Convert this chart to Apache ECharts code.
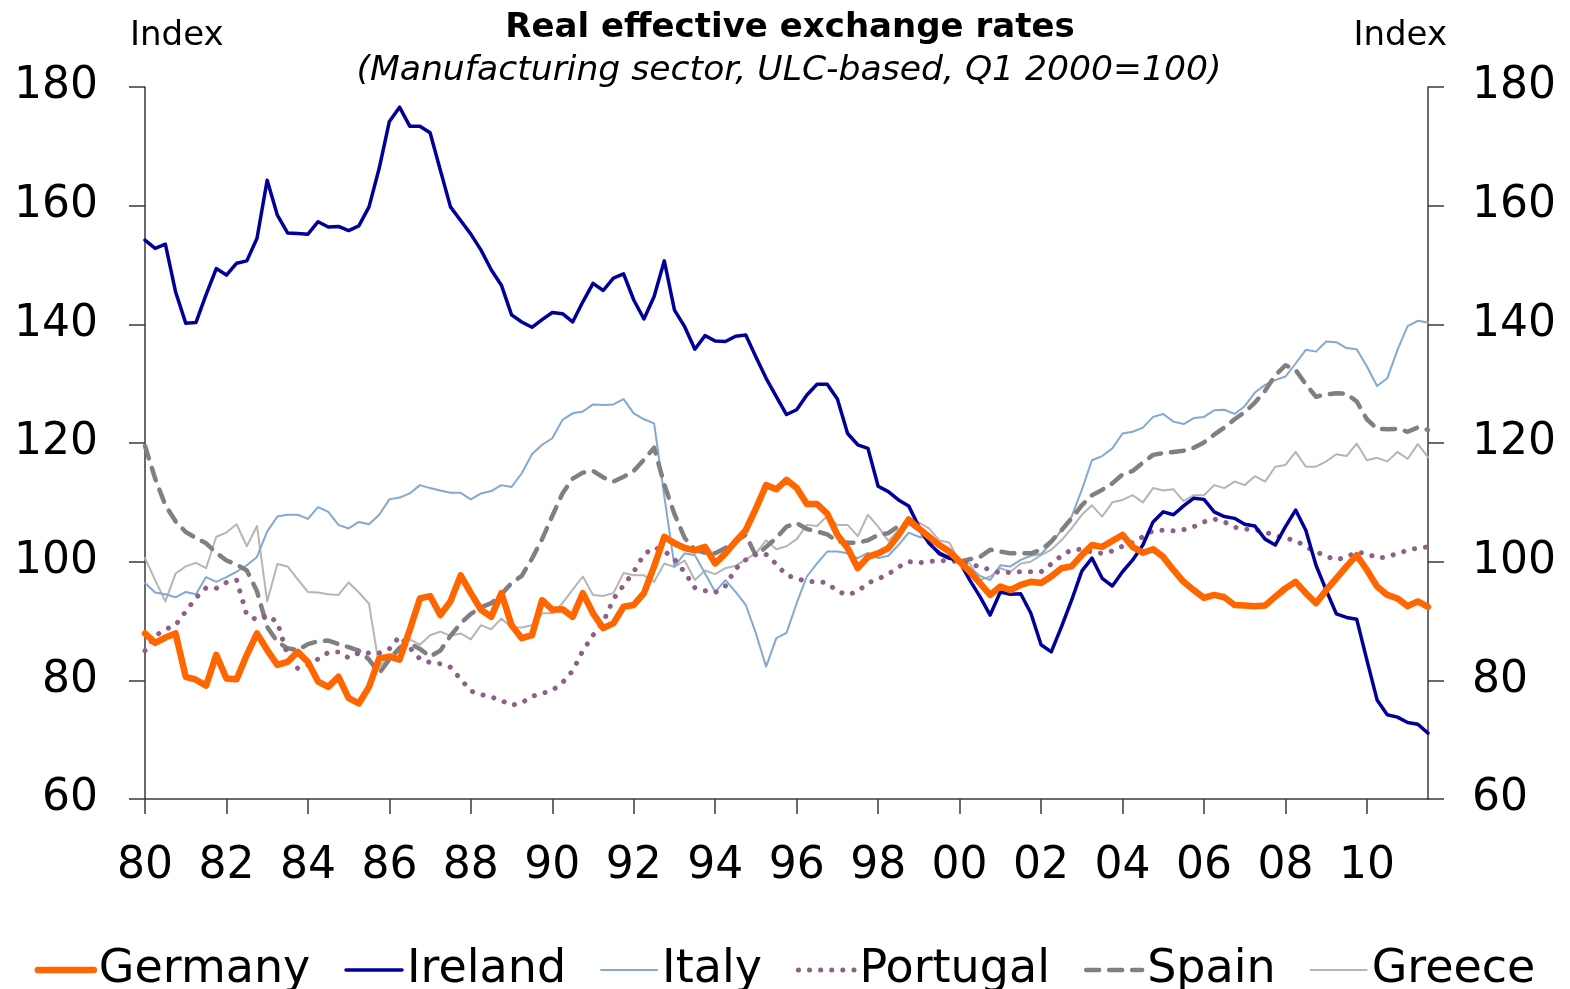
<!DOCTYPE html>
<html>
<head>
<meta charset="utf-8">
<title>Real effective exchange rates</title>
<script src="https://cdn.jsdelivr.net/npm/echarts@6/dist/echarts.min.js"></script>
<style>
  html, body { margin: 0; padding: 0; background: #fff; }
  #chart { width: 1570px; height: 989px; }
</style>
</head>
<body>
<div id="chart"></div>
<script>
// Quarterly categories, 1980Q1 .. 2011Q3
const quarters = [];
for (let y = 1980; y <= 2011; y++) {
  for (let q = 1; q <= 4; q++) {
    if (y === 2011 && q > 3) break;
    quarters.push(y + 'Q' + q);
  }
}

// Index, Q1 2000 = 100
const germany = [
  87.9, 86.3, 87.2, 87.9, 80.6, 80.1, 79.1, 84.3, 80.3, 80.2,
  84.3, 87.9, 85.1, 82.6, 83.1, 84.8, 83.1, 79.8, 78.9, 80.6,
  77.0, 76.1, 78.9, 83.7, 84.0, 83.5, 88.5, 93.8, 94.2, 91.0,
  93.3, 97.7, 94.7, 91.9, 90.7, 94.7, 89.3, 87.1, 87.6, 93.5,
  91.9, 92.0, 90.7, 94.7, 91.3, 88.8, 89.6, 92.4, 92.7, 94.7,
  99.2, 104.2, 103.1, 102.3, 101.9, 102.5, 99.7, 101.4, 103.4, 105.3,
  109.0, 112.9, 112.2, 113.8, 112.4, 109.7, 109.7, 108.1, 104.5, 102.3,
  98.9, 100.8, 101.4, 102.3, 104.5, 107.1, 105.6, 104.2, 102.8, 101.7,
  100.0, 98.3, 96.4, 94.4, 95.8, 95.2, 96.1, 96.6, 96.4, 97.5,
  98.9, 99.2, 101.1, 102.8, 102.5, 103.5, 104.5, 102.5, 101.5, 102.1,
  100.8, 98.6, 96.6, 95.2, 93.9, 94.4, 94.0, 92.7, 92.6, 92.5,
  92.6, 94.1, 95.5, 96.6, 94.7, 93.0, 95.2, 97.2, 99.2, 101.1,
  98.6, 95.8, 94.4, 93.8, 92.5, 93.3, 92.4
];

const ireland = [
  154.2, 152.8, 153.5, 145.5, 140.2, 140.3, 145.0, 149.4, 148.3, 150.3,
  150.7, 154.5, 164.3, 158.4, 155.4, 155.3, 155.2, 157.3, 156.4, 156.5,
  155.8, 156.6, 159.8, 166.3, 174.2, 176.6, 173.4, 173.4, 172.3, 166.0,
  159.8, 157.5, 155.2, 152.5, 149.2, 146.6, 141.6, 140.4, 139.5, 140.8,
  142.0, 141.8, 140.4, 143.8, 146.9, 145.7, 147.8, 148.5, 144.1, 140.9,
  144.7, 150.7, 142.4, 139.6, 135.8, 138.1, 137.2, 137.1, 138.0, 138.2,
  134.5, 130.9, 127.8, 124.8, 125.6, 128.1, 129.9, 129.9, 127.4, 121.6,
  119.7, 119.1, 112.7, 111.8, 110.4, 109.4, 105.9, 103.1, 101.4, 100.6,
  100.0, 96.9, 94.1, 91.0, 94.9, 94.5, 94.6, 91.3, 86.0, 84.8,
  89.0, 93.5, 98.4, 100.6, 97.2, 95.9, 98.3, 100.3, 102.8, 106.7,
  108.4, 107.9, 109.4, 110.7, 110.5, 108.4, 107.6, 107.3, 106.3, 106.0,
  103.8, 102.8, 105.9, 108.7, 105.3, 99.4, 95.2, 91.2, 90.6, 90.3,
  83.4, 76.7, 74.2, 73.8, 72.9, 72.6, 71.1
];

const italy = [
  96.4, 94.8, 94.5, 94.0, 94.9, 94.5, 97.4, 96.6, 97.4, 98.3,
  99.4, 100.8, 105.1, 107.6, 107.9, 107.9, 107.2, 109.2, 108.4, 106.2,
  105.6, 106.7, 106.3, 107.9, 110.5, 110.8, 111.5, 112.9, 112.4, 112.0,
  111.6, 111.6, 110.5, 111.5, 111.9, 112.9, 112.6, 114.9, 118.1, 119.7,
  120.8, 123.9, 125.0, 125.3, 126.5, 126.4, 126.5, 127.4, 125.0, 124.0,
  123.3, 111.0, 99.2, 101.4, 101.1, 98.0, 94.9, 96.9, 94.9, 92.7,
  87.9, 82.3, 87.1, 88.0, 93.0, 97.5, 99.7, 101.7, 101.7, 101.4,
  100.6, 101.5, 100.6, 101.0, 102.8, 104.9, 104.2, 103.8, 103.1, 102.1,
  100.0, 99.0, 97.6, 96.9, 99.4, 99.2, 100.3, 101.0, 101.3, 103.1,
  105.3, 107.6, 112.1, 117.1, 117.8, 119.1, 121.6, 121.9, 122.6, 124.4,
  124.9, 123.6, 123.2, 124.2, 124.4, 125.5, 125.6, 124.9, 126.2, 128.5,
  129.8, 130.6, 131.2, 133.4, 135.7, 135.4, 137.1, 137.0, 136.0, 135.8,
  132.9, 129.6, 130.9, 135.7, 139.7, 140.6, 140.3
];

const portugal = [
  85.0, 87.5, 88.6, 89.3, 91.6, 93.9, 95.6, 95.5, 96.5, 96.9,
  91.0, 90.2, 91.0, 89.8, 84.2, 82.0, 82.6, 83.6, 84.7, 84.8,
  83.8, 84.6, 84.6, 84.6, 85.3, 87.4, 85.5, 83.6, 83.0, 82.8,
  82.2, 80.2, 78.2, 77.6, 77.2, 76.6, 75.8, 76.2, 77.3, 77.8,
  78.3, 79.6, 81.6, 85.0, 87.6, 89.8, 93.7, 96.0, 98.3, 101.2,
  102.4, 101.8, 100.4, 98.2, 95.6, 95.1, 94.8, 95.9, 98.8, 100.3,
  101.3, 101.2, 99.6, 97.7, 97.2, 96.6, 96.7, 96.4, 95.0, 94.4,
  95.0, 96.4, 97.1, 97.9, 99.1, 100.0, 99.8, 100.0, 100.2, 100.1,
  100.0, 99.5, 99.2, 98.6, 98.1, 98.2, 98.3, 98.3, 98.3, 99.6,
  101.0, 102.0, 102.1, 101.6, 101.4, 101.8, 102.6, 103.2, 104.2, 105.2,
  105.3, 105.2, 105.4, 105.9, 106.7, 107.2, 106.7, 105.8, 105.5, 105.4,
  105.0, 104.4, 103.9, 103.6, 102.5, 101.7, 100.9, 100.3, 100.8, 101.6,
  101.4, 100.6, 100.8, 101.4, 101.9, 102.3, 102.5
];

const spain = [
  119.5, 114.0, 109.5, 106.8, 105.0, 104.0, 103.1, 101.5, 100.2, 99.5,
  98.5, 95.0, 89.0, 86.5, 85.4, 85.1, 86.1, 86.6, 86.7, 86.1,
  85.6, 85.0, 83.5, 81.2, 83.5, 85.4, 86.2, 85.3, 84.0, 85.0,
  87.5, 89.6, 91.2, 92.3, 93.0, 94.5, 96.4, 97.6, 100.5, 103.8,
  107.7, 111.5, 114.0, 115.0, 115.3, 114.2, 113.5, 114.3, 115.3, 117.2,
  119.2, 113.0, 108.0, 104.0, 102.0, 101.5, 101.4, 102.3, 103.5, 104.5,
  101.0, 102.5, 104.0, 105.9, 106.5, 105.5, 105.1, 104.6, 103.4, 103.2,
  103.2, 103.6, 104.5, 104.8, 106.0, 106.7, 105.3, 103.4, 101.4, 100.6,
  100.0, 100.4, 100.8, 102.0, 101.7, 101.4, 101.4, 101.4, 102.0, 103.4,
  105.3, 107.3, 109.5, 111.2, 112.1, 113.2, 114.7, 115.3, 116.7, 118.0,
  118.3, 118.5, 118.7, 119.2, 120.1, 121.4, 122.6, 124.0, 125.2, 126.8,
  128.8, 131.4, 133.1, 132.3, 129.9, 127.8, 128.2, 128.4, 128.3, 127.0,
  124.0, 122.4, 122.3, 122.4, 121.9, 122.6, 122.2
];

const greece = [
  100.6, 96.9, 93.3, 98.0, 99.2, 99.8, 98.9, 104.2, 104.9, 106.3,
  102.6, 106.0, 93.3, 99.6, 99.2, 97.0, 94.9, 94.8, 94.5, 94.4,
  96.5, 94.8, 92.9, 82.3, 84.0, 85.8, 86.9, 86.0, 87.6, 88.2,
  87.5, 87.9, 86.9, 89.3, 88.6, 90.4, 88.9, 88.9, 89.3, 91.3,
  91.3, 93.0, 95.3, 97.5, 94.4, 94.2, 94.7, 98.1, 97.7, 97.7,
  96.6, 99.7, 99.1, 100.2, 96.9, 98.5, 97.9, 98.9, 99.3, 100.4,
  101.4, 103.6, 102.1, 102.6, 103.8, 106.2, 106.0, 107.7, 106.2, 106.2,
  104.3, 107.9, 105.9, 103.5, 105.3, 106.3, 106.6, 105.6, 103.6, 103.2,
  100.0, 99.7, 96.9, 97.5, 98.9, 98.3, 99.7, 100.0, 101.1, 102.0,
  103.6, 105.6, 107.9, 109.5, 107.6, 110.0, 110.4, 111.2, 110.0, 112.4,
  112.0, 112.2, 110.2, 111.2, 111.2, 112.9, 112.4, 113.5, 112.9, 114.4,
  113.5, 116.0, 116.3, 118.5, 116.0, 116.0, 116.9, 118.1, 117.8, 119.9,
  117.1, 117.5, 116.9, 118.5, 117.3, 119.8, 117.6
];

const legendOrder = ['Germany', 'Ireland', 'Italy', 'Portugal', 'Spain', 'Greece'];

const font = '"DejaVu Sans", Verdana, sans-serif';
const axisColor = '#3a3a3a';
const everyTwoYears = (index) => index % 8 === 0;

const chart = echarts.init(document.getElementById('chart'));

const lineSeries = (name, data, color, width, type) => ({
  name,
  type: 'line',
  data,
  symbol: 'none',
  lineStyle: { color, width, type, cap: 'round', join: 'round' },
  itemStyle: { color },
  emphasis: { disabled: true }
});

const yAxisBase = (position, margin) => ({
  type: 'value',
  position,
  min: 60,
  max: 180,
  interval: 20,
  axisLine: { show: true, lineStyle: { color: axisColor, width: 1.5 } },
  axisTick: { show: true, length: 16, lineStyle: { color: axisColor, width: 1.5 } },
  splitLine: { show: false },
  axisLabel: { margin, color: '#000', fontSize: 44, fontFamily: font }
});

const plainTitle = {
  fontFamily: font,
  fontSize: 34,
  fontWeight: 'normal',
  color: '#000'
};

const option = {
  animation: false,
  backgroundColor: '#fff',
  title: [
    {
      text: 'Real effective exchange rates',
      left: 790, top: 11, padding: 0, textAlign: 'center',
      textStyle: { ...plainTitle, fontSize: 34, fontWeight: 'bold' }
    },
    {
      text: '(Manufacturing sector, ULC-based, Q1 2000=100)',
      left: 789, top: 54, padding: 0, textAlign: 'center',
      textStyle: { ...plainTitle, fontSize: 34.6, fontStyle: 'italic' }
    },
    { text: 'Index', left: 130, top: 19, padding: 0, textStyle: plainTitle },
    { text: 'Index', right: 123, top: 19, padding: 0, textStyle: plainTitle }
  ],
  grid: {
    left: 145,
    right: 142,
    top: 87,
    bottom: 190,
    containLabel: false,
    outerBoundsMode: 'none'
  },
  legend: {
    data: legendOrder,
    left: 'center',
    top: 942,
    itemWidth: 56,
    itemHeight: 14,
    itemGap: 34,
    selectedMode: false,
    // hide the marker that ECharts adds in the middle of line icons
    itemStyle: { opacity: 0 },
    lineStyle: { width: 'inherit' },
    textStyle: { fontFamily: font, fontSize: 46, color: '#000' }
  },
  xAxis: {
    type: 'category',
    data: quarters,
    boundaryGap: false,
    axisLine: { onZero: false, lineStyle: { color: axisColor, width: 1.5 } },
    axisTick: { interval: everyTwoYears, length: 15, lineStyle: { color: axisColor, width: 1.5 } },
    splitLine: { show: false },
    axisLabel: {
      interval: everyTwoYears,
      formatter: (v) => v.slice(2, 4),
      margin: 46,
      color: '#000',
      fontSize: 44,
      fontFamily: font
    }
  },
  yAxis: [yAxisBase('left', 47), yAxisBase('right', 44)],
  series: [
    lineSeries('Greece', greece, '#b5b5b5', 2, 'solid'),
    lineSeries('Italy', italy, '#82a8d4', 2, 'solid'),
    lineSeries('Spain', spain, '#808080', 4.5, [13, 10]),
    lineSeries('Portugal', portugal, '#8c6088', 5, [0.1, 11]),
    lineSeries('Ireland', ireland, '#000099', 3.5, 'solid'),
    lineSeries('Germany', germany, '#ff6600', 6.5, 'solid')
  ]
};

chart.setOption(option);
</script>
</body>
</html>
